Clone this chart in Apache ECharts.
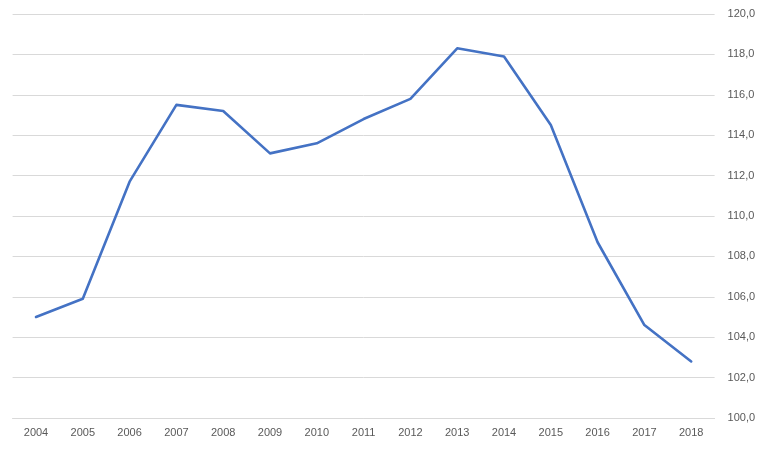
<!DOCTYPE html>
<html>
<head>
<meta charset="utf-8">
<script src="https://cdn.jsdelivr.net/npm/echarts@6/dist/echarts.min.js"></script>
<style>html,body{margin:0;padding:0;background:#fff;}#c{width:762px;height:449px;}</style>
</head>
<body>
<div id="c"></div>
<script>
const categories = ['2004','2005','2006','2007','2008','2009','2010','2011','2012','2013','2014','2015','2016','2017','2018'];
const values = [105.0,105.9,111.7,115.5,115.2,113.1,113.6,114.8,115.8,118.3,117.9,114.5,108.7,104.6,102.8];
const yMin = 100, yMax = 120, yStep = 2;

const chart = echarts.init(document.getElementById('c'), null, {renderer:'canvas'});
chart.setOption({
  animation: false,
  backgroundColor: '#ffffff',
  grid: {left: 12.6, right: 47.4, top: 14, bottom: 31, containLabel: false},
  xAxis: {
    type: 'category',
    data: categories,
    boundaryGap: true,
    axisLine: {show: true, lineStyle: {color: '#d9d9d9', width: 1}},
    axisTick: {show: false},
    axisLabel: {color: '#595959', fontSize: 11, fontFamily: 'Liberation Sans, Arial, sans-serif', margin: 9}
  },
  yAxis: {
    type: 'value',
    position: 'right',
    min: yMin, max: yMax, interval: yStep,
    axisLine: {show: false},
    axisTick: {show: false},
    splitLine: {lineStyle: {color: '#d9d9d9', width: 1}},
    axisLabel: {
      color: '#595959', fontSize: 11, fontFamily: 'Liberation Sans, Arial, sans-serif', margin: 13,
      formatter: v => v.toFixed(1).replace('.', ',')
    }
  },
  series: [{
    type: 'line',
    data: values,
    showSymbol: false,
    symbol: 'none',
    lineStyle: {color: '#4472C4', width: 2.6, join: 'round', cap: 'round'},
    itemStyle: {color: '#4472C4'}
  }]
});
</script>
</body>
</html>
